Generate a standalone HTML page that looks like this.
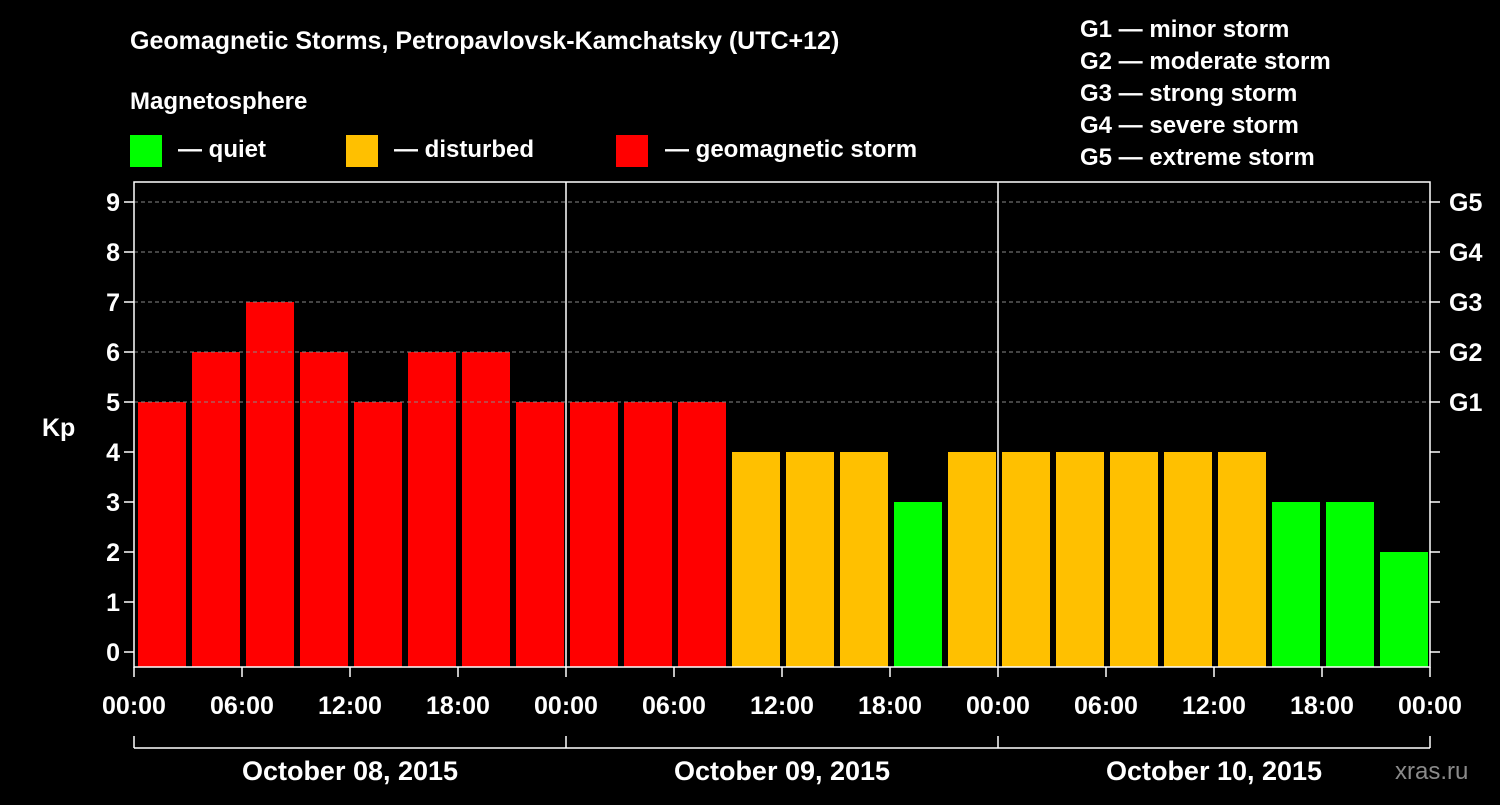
<!DOCTYPE html>
<html><head><meta charset="utf-8"><style>
body{margin:0;background:#000;width:1500px;height:800px;overflow:hidden}
svg text{font-family:"Liberation Sans",sans-serif;font-weight:bold;fill:#fff}
</style></head><body>
<svg id="c" width="1500" height="800">
<text x="130" y="49" font-size="25">Geomagnetic Storms, Petropavlovsk-Kamchatsky (UTC+12)</text>
<text x="130" y="109" font-size="24">Magnetosphere</text>
<rect x="130" y="135" width="32" height="32" fill="#00ff00"/>
<text x="178" y="157" font-size="24">— quiet</text>
<rect x="346" y="135" width="32" height="32" fill="#ffc000"/>
<text x="394" y="157" font-size="24">— disturbed</text>
<rect x="616" y="135" width="32" height="32" fill="#ff0000"/>
<text x="665" y="157" font-size="24">— geomagnetic storm</text>
<g font-size="24">
<text x="1080" y="37">G1 — minor storm</text>
<text x="1080" y="69">G2 — moderate storm</text>
<text x="1080" y="101">G3 — strong storm</text>
<text x="1080" y="133">G4 — severe storm</text>
<text x="1080" y="165">G5 — extreme storm</text>
</g>
<text x="42" y="436" font-size="25">Kp</text>
<text x="1395" y="779" font-size="24" fill="#888" style="fill:#8a8a8a;font-weight:normal">xras.ru</text>
<g id="g"></g>
</svg>
<script>
const kpValues=[5,6,7,6,5,6,6,5, 5,5,5,4,4,4,3,4, 4,4,4,4,4,3,3,2];
const yTicks=[0,1,2,3,4,5,6,7,8,9];
const gLabels=["G1","G2","G3","G4","G5"];
const xTickLabels=["00:00","06:00","12:00","18:00","00:00","06:00","12:00","18:00","00:00","06:00","12:00","18:00","00:00"];
const dayLabels=["October 08, 2015","October 09, 2015","October 10, 2015"];
const L=134,R=1430,T=182,B=667,hours=72;
const xs=h=>L+(R-L)*h/hours;
const ys=v=>652-50*v;
const NS="http://www.w3.org/2000/svg";
const g=document.getElementById('g');
function mk(t,a){const e=document.createElementNS(NS,t);for(const k in a)e.setAttribute(k,a[k]);g.appendChild(e);return e;}
kpValues.forEach((v,i)=>{
 const x0=xs(i*3),x1=xs(i*3+3);
 const col=v>=5?"#ff0000":v==4?"#ffc000":"#00ff00";
 const r=mk('rect',{x:x0+4,y:ys(v),width:x1-x0-6,height:B-ys(v),fill:col});
 
 
});
yTicks.forEach(v=>{
 const y=ys(v);
 if(v>=5){const l=mk('line',{x1:L,x2:R,y1:y,y2:y,stroke:"#888","stroke-dasharray":"4,3","stroke-width":1});
 
 }
 mk('line',{x1:L-10,x2:L,y1:y,y2:y,stroke:"#fff","stroke-width":1.5});
 mk('line',{x1:R,x2:R+10,y1:y,y2:y,stroke:"#fff","stroke-width":1.5});
 const t=mk('text',{x:L-14,y:y+9,"font-size":25,"text-anchor":"end"});t.textContent=v;
 
 
});
gLabels.forEach((s,i)=>{
 const t=mk('text',{x:R+19,y:ys(5+i)+9,"font-size":25});t.textContent=s;
 
 
});
const fr=mk('rect',{x:L,y:T,width:R-L,height:B-T,fill:"none",stroke:"#fff","stroke-width":1.5});


[24,48].forEach(h=>{mk('line',{x1:xs(h),x2:xs(h),y1:T,y2:B,stroke:"#fff","stroke-width":1.5});});
xTickLabels.forEach((s,i)=>{
 const x=xs(i*6);
 mk('line',{x1:x,x2:x,y1:B,y2:B+10,stroke:"#fff","stroke-width":1.5});
 const t=mk('text',{x:x,y:714,"font-size":25,"text-anchor":"middle"});t.textContent=s;
 
 
});
mk('line',{x1:L,x2:R,y1:748,y2:748,stroke:"#fff","stroke-width":1.5});
[0,24,48,72].forEach(h=>mk('line',{x1:xs(h),x2:xs(h),y1:736,y2:748,stroke:"#fff","stroke-width":1.5}));
dayLabels.forEach((s,i)=>{
 const t=mk('text',{x:xs(i*24+12),y:780,"font-size":27,"text-anchor":"middle"});t.textContent=s;
 
 
});
</script>
</body></html>
